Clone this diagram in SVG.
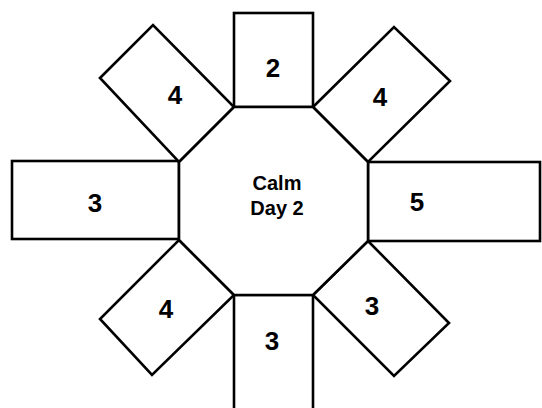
<svg xmlns="http://www.w3.org/2000/svg" width="542" height="408" viewBox="0 0 542 408">
<style>
.s{fill:#fff;stroke:#000;stroke-width:2.6;stroke-linejoin:miter}
.n{font-family:"Liberation Sans",Arial,sans-serif;font-weight:bold;font-size:26px;text-anchor:middle;fill:#000}
.c{font-family:"Liberation Sans",Arial,sans-serif;font-weight:bold;font-size:20px;text-anchor:middle;fill:#000}
</style>
<rect width="542" height="408" fill="#fff"/>
<g id="top">
<rect class="s" x="234" y="13" width="79" height="94"/>
<text class="n" x="273" y="77">2</text>
</g>
<g id="bottom">
<path class="s" d="M234,412 V295 H313 V412"/>
<text class="n" x="272" y="350">3</text>
</g>
<g id="left">
<rect class="s" x="12" y="161" width="167" height="78"/>
<text class="n" x="95" y="212">3</text>
</g>
<g id="right">
<rect class="s" x="368" y="162" width="172" height="79"/>
<text class="n" x="417" y="211">5</text>
</g>
<g id="topleft">
<polygon class="s" points="100,78 153,25 234,107 179,162"/>
<text class="n" x="175" y="104">4</text>
</g>
<g id="topright">
<polygon class="s" points="313,107 394,27 450,81 368,162"/>
<text class="n" x="380" y="106">4</text>
</g>
<g id="bottomleft">
<polygon class="s" points="179,240 234,295 152,375 100,319"/>
<text class="n" x="166" y="318">4</text>
</g>
<g id="bottomright">
<polygon class="s" points="368,241 449,323 394,376 313,295"/>
<text class="n" x="372" y="315">3</text>
</g>
<g id="center">
<polygon class="s" points="234,107 313,107 368,162 368,241 313,295 234,295 179,240 179,162"/>
<text class="c" x="277" y="190">Calm</text>
<text class="c" x="277" y="215">Day 2</text>
</g>
</svg>
